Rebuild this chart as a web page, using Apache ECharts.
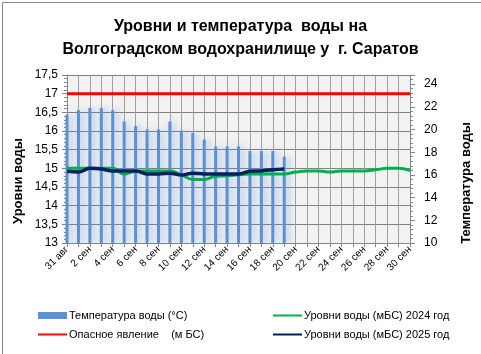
<!DOCTYPE html>
<html>
<head>
<meta charset="utf-8">
<script src="https://cdn.jsdelivr.net/npm/echarts@6/dist/echarts.min.js"></script>
<style>
  html, body { margin: 0; padding: 0; background: #fff; }
  #chart { width: 481px; height: 354px; }
</style>
</head>
<body>
<div id="chart"></div>
<script>
// даты
const days = ['31 авг', '1 сен', '2 сен', '3 сен', '4 сен', '5 сен', '6 сен', '7 сен', '8 сен', '9 сен',
  '10 сен', '11 сен', '12 сен', '13 сен', '14 сен', '15 сен', '16 сен', '17 сен', '18 сен', '19 сен',
  '20 сен', '21 сен', '22 сен', '23 сен', '24 сен', '25 сен', '26 сен', '27 сен', '28 сен', '29 сен', '30 сен'];

// температура воды (°С), правая ось
const waterTemp = [21.3, 21.7, 21.9, 21.9, 21.7, 20.7, 20.3, 20.0, 20.0, 20.7,
  19.9, 19.7, 19.1, 18.5, 18.5, 18.5, 18.1, 18.1, 18.1, 17.6];

// опасное явление (м БС)
const dangerLevel = [17, 17, 17, 17, 17, 17, 17, 17, 17, 17, 17, 17, 17, 17, 17, 17,
  17, 17, 17, 17, 17, 17, 17, 17, 17, 17, 17, 17, 17, 17, 17];

// уровни воды 2024
const level2024 = [15.0, 15.0, 15.0, 15.0, 15.0, 14.84, 14.93, 14.93, 14.93, 14.93,
  14.83, 14.7, 14.7, 14.79, 14.8, 14.83, 14.85, 14.85, 14.85, 14.85,
  14.9, 14.93, 14.93, 14.9, 14.93, 14.93, 14.93, 14.96, 15.0, 15.0, 14.94];

// уровни воды 2025
const level2025 = [14.92, 14.9, 15.0, 14.98, 14.93, 14.93, 14.93, 14.85, 14.85, 14.87,
  14.82, 14.87, 14.85, 14.85, 14.85, 14.85, 14.92, 14.93, 14.96, 14.98];

const font = 'Liberation Sans, Arial, sans-serif';
const myChart = echarts.init(document.getElementById('chart'));

const lineIcon = { opacity: 0 }; // в легенде только линия, без маркера

const option = {
  animation: false,
  backgroundColor: '#ffffff',
  textStyle: { fontFamily: font },
  title: {
    text: 'Уровни и температура  воды на\nВолгоградском водохранилище у  г. Саратов',
    left: 'center',
    top: 10,
    textStyle: { fontSize: 16, fontWeight: 'bold', color: '#000', lineHeight: 23, fontFamily: font },
  },
  graphic: [
    {
      type: 'rect',
      left: 0, top: 0,
      shape: { width: 480, height: 353 },
      style: { fill: 'none', stroke: '#868686', lineWidth: 1 },
      silent: true,
    },
    {
      type: 'text',
      x: 18, y: 181,
      rotation: Math.PI / 2,
      style: { text: 'Уровни воды', font: 'bold 13px ' + font, fill: '#000', align: 'center', verticalAlign: 'middle' },
    },
    {
      type: 'text',
      x: 466, y: 183,
      rotation: Math.PI / 2,
      style: { text: 'Температура воды', font: 'bold 13px ' + font, fill: '#000', align: 'center', verticalAlign: 'middle' },
    },
  ],
  legend: [
    {
      left: 32, top: 305,
      orient: 'vertical',
      itemWidth: 29, itemHeight: 7, itemGap: 8,
      textStyle: { fontSize: 11, color: '#000', padding: [0, 0, 0, -3] },
      data: [
        { name: 'Температура воды (°С)', icon: 'rect' },
        { name: 'Опасное явление    (м БС)', itemStyle: lineIcon },
      ],
    },
    {
      left: 267, top: 305,
      orient: 'vertical',
      itemWidth: 29, itemHeight: 7, itemGap: 8,
      textStyle: { fontSize: 11, color: '#000', padding: [0, 0, 0, -3] },
      data: [
        { name: 'Уровни воды (мБС) 2024 год', itemStyle: lineIcon },
        { name: 'Уровни воды (мБС) 2025 год', itemStyle: lineIcon },
      ],
    },
  ],
  grid: { left: 67, right: 71, top: 75, bottom: 111 },
  xAxis: {
    type: 'category',
    data: days,
    boundaryGap: false,
    axisLine: { lineStyle: { color: '#868686' } },
    axisTick: { show: true, interval: 0, length: 4, lineStyle: { color: '#868686' } },
    axisLabel: { interval: 1, rotate: 45, fontSize: 10, color: '#000', margin: 5 },
    splitLine: { show: true, interval: 0, lineStyle: { color: '#a0a0a0', width: 1 } },
  },
  yAxis: [
    {
      type: 'value',
      min: 13, max: 17.5, interval: 0.5,
      axisLine: { show: true, lineStyle: { color: '#868686' } },
      axisTick: { show: true, length: 5, lineStyle: { color: '#868686' } },
      minorTick: { show: true, splitNumber: 5, length: 3, lineStyle: { color: '#868686' } },
      axisLabel: {
        fontSize: 12, color: '#000', margin: 9,
        formatter: (v) => String(v).replace('.', ','),
      },
      splitLine: { show: true, lineStyle: { color: '#808080', width: 1 } },
      splitArea: { show: true, areaStyle: { color: ['#f2f2f2', '#f2f2f2'] } },
    },
    {
      type: 'value',
      min: 10, max: 24.8, interval: 2,
      position: 'right',
      axisLine: { show: true, lineStyle: { color: '#868686' } },
      axisTick: { show: true, length: 5, lineStyle: { color: '#868686' } },
      minorTick: { show: true, splitNumber: 5, length: 3, lineStyle: { color: '#868686' } },
      axisLabel: { fontSize: 12, color: '#000', margin: 14, showMaxLabel: false },
      splitLine: { show: false },
    },
  ],
  series: [
    {
      name: 'Температура воды (°С)',
      type: 'bar',
      yAxisIndex: 1,
      data: waterTemp,
      barWidth: 3,
      itemStyle: {
        color: '#5b8fd6',
        shadowColor: 'rgba(91,143,214,0.55)',
        shadowBlur: 6,
        shadowOffsetX: 3,
      },
    },
    {
      name: 'Опасное явление    (м БС)',
      type: 'line',
      data: dangerLevel,
      symbol: 'none',
      lineStyle: { color: '#ff0000', width: 3 },
      itemStyle: { color: '#ff0000' },
    },
    {
      name: 'Уровни воды (мБС) 2024 год',
      type: 'line',
      data: level2024,
      symbol: 'none',
      smooth: 0.4,
      lineStyle: { color: '#00b050', width: 3 },
      itemStyle: { color: '#00b050' },
    },
    {
      name: 'Уровни воды (мБС) 2025 год',
      type: 'line',
      data: level2025,
      symbol: 'none',
      smooth: 0.4,
      lineStyle: { color: '#002060', width: 3.5 },
      itemStyle: { color: '#002060' },
    },
  ],
};

myChart.setOption(option);
</script>
</body>
</html>
